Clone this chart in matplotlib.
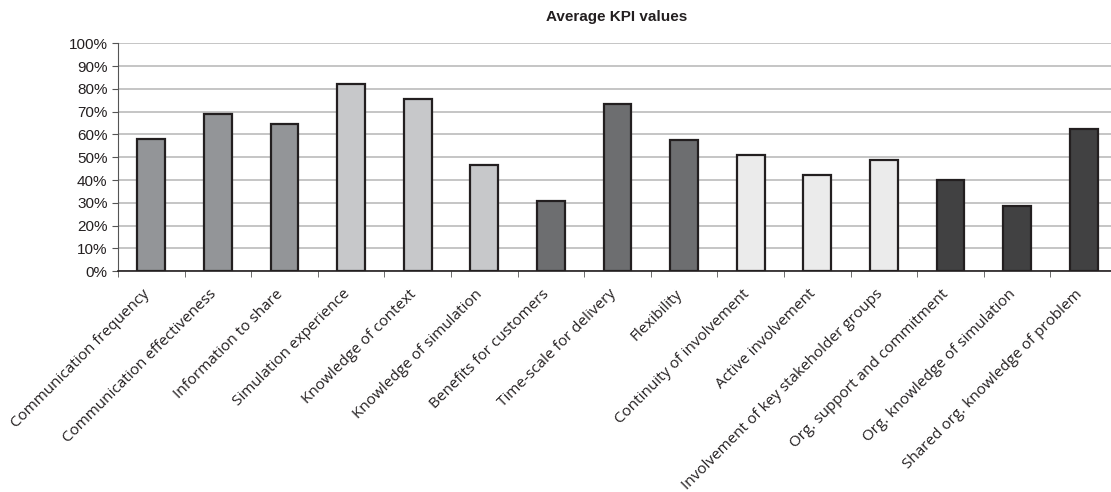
import matplotlib.pyplot as plt
import matplotlib.transforms as mtransforms
import numpy as np
from matplotlib.ticker import PercentFormatter

# datos
kpis = ['Communication frequency', 'Communication effectiveness', 'Information to share',
        'Simulation experience', 'Knowledge of context', 'Knowledge of simulation',
        'Benefits for customers', 'Time-scale for delivery', 'Flexibility',
        'Continuity of involvement', 'Active involvement', 'Involvement of key stakeholder groups',
        'Org. support and commitment', 'Org. knowledge of simulation', 'Shared org. knowledge of problem']
valores = [58, 69, 64.5, 82.3, 75.6, 46.6, 31, 73.4, 57.7, 51, 42.2, 49, 40, 28.8, 62.3]
grupos = [0, 0, 0, 1, 1, 1, 2, 2, 2, 3, 3, 3, 4, 4, 4]
colores_grupo = ['#939598', '#c7c8ca', '#6d6e70', '#ebebeb', '#414142']

fig = plt.figure(figsize=(11.11, 4.92), dpi=100)
ax = fig.add_axes([118/1111, 1-271.3/492, (1117-118)/1111, (271.3-43.3)/492])

x = np.arange(len(kpis))
colores = [colores_grupo[g] for g in grupos]
ax.bar(x, valores, width=0.42, color=colores, edgecolor='#231f20', linewidth=1.6, zorder=3)

ax.set_xlim(-0.5, len(kpis)-0.5)
ax.set_ylim(0, 100)
ax.set_yticks(np.arange(0, 101, 10))
ax.yaxis.set_major_formatter(PercentFormatter(decimals=0))
ax.grid(axis='y', color='#b5b5b5', linewidth=1.1, zorder=0)

for s in ['top', 'right']:
    ax.spines[s].set_visible(False)
ax.spines['left'].set_color('#555555')
ax.spines['bottom'].set_color('#231f20')
ax.spines['bottom'].set_linewidth(1.2)

ax.set_xticks(x)
ax.set_xticklabels(kpis, rotation=45, ha='right', rotation_mode='anchor',
                   fontsize=11, family='Open Sans', color='#231f20')
ax.tick_params(axis='x', which='major', length=0, pad=11)
# correr las etiquetas un poco a la izquierda
desplaz = mtransforms.ScaledTranslation(-9/100, 0, fig.dpi_scale_trans)
for lab in ax.get_xticklabels():
    lab.set_transform(lab.get_transform() + desplaz)
ax.set_xticks(np.arange(-0.5, len(kpis), 1), minor=True)
ax.tick_params(axis='x', which='minor', length=4, color='#555555')
ax.tick_params(axis='y', length=4, color='#555555', labelsize=11, labelcolor='#231f20')
for t in ax.get_yticklabels():
    t.set_family('Liberation Sans')

fig.text(617/1111, 1-17/492, 'Average KPI values', ha='center', va='center',
         fontsize=11, fontweight='bold', family='Liberation Sans', color='#231f20')

fig.savefig('out.png', dpi=100)
